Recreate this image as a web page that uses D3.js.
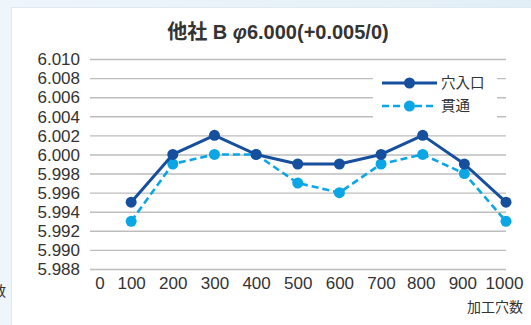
<!DOCTYPE html>
<html>
<head>
<meta charset="utf-8">
<script src="https://cdn.jsdelivr.net/npm/d3@7"></script>
<style>
  html, body { margin: 0; padding: 0; background: #e8f2f9; }
  svg { display: block; }
</style>
</head>
<body>
<script>
// Hole count (x) and measured diameters for each series
const holeCounts = [100, 200, 300, 400, 500, 600, 700, 800, 900, 1000];
const entryDiameter = [5.995, 6.000, 6.002, 6.000, 5.999, 5.999, 6.000, 6.002, 5.999, 5.995];
const throughDiameter = [5.993, 5.999, 6.000, 6.000, 5.997, 5.996, 5.999, 6.000, 5.998, 5.993];
const seriesNames = ["穴入口", "貫通"];
const xTickLabels = [0, 100, 200, 300, 400, 500, 600, 700, 800, 900, 1000];
const yTickValues = [6.010, 6.008, 6.006, 6.004, 6.002, 6.000, 5.998, 5.996, 5.994, 5.992, 5.990, 5.988];
const titleMaker = "他社 B ";
const titleSpec = "6.000(+0.005/0)";
const xAxisTitle = "加工穴数";

const W = 531, H = 325;
const font = "'Liberation Sans', Arial, 'Noto Sans CJK JP', sans-serif";
const jpFont = "'Noto Sans CJK JP', 'Liberation Sans', sans-serif";
const darkBlue = "#164f9e";
const lightBlue = "#0aa6e6";

const svg = d3.select("body").append("svg").attr("width", W).attr("height", H);

// soft page backdrop with the white chart panel
const defs = svg.append("defs");
const grad = defs.append("linearGradient").attr("id", "edge").attr("x1", 0).attr("x2", 1);
grad.append("stop").attr("offset", 0).attr("stop-color", "#eef6fb");
grad.append("stop").attr("offset", 1).attr("stop-color", "#e2eef6");
svg.append("rect").attr("width", W).attr("height", H).attr("fill", "url(#edge)");
svg.append("rect").attr("x", 11).attr("y", 7).attr("width", W - 11).attr("height", H - 7)
  .attr("fill", "#dfe9f0");
svg.append("rect").attr("x", 12).attr("y", 8).attr("width", W - 12).attr("height", H - 8)
  .attr("fill", "#ffffff");

// fragment of a neighbouring label at the left edge
svg.append("text").attr("x", -8).attr("y", 296)
  .attr("font-family", jpFont).attr("font-size", 14).attr("fill", "#333")
  .text("数");

const x = d3.scaleLinear().domain([0, 1000]).range([89.5, 506]);
const y = d3.scaleLinear().domain([5.988, 6.010]).range([269, 59]);

// horizontal gridlines
const yAxis = d3.axisLeft(y).tickValues(yTickValues).tickFormat(d3.format(".3f"))
  .tickSize(-(506 - 90)).tickPadding(10);
const gy = svg.append("g").attr("transform", "translate(90,0)").call(yAxis);
gy.select(".domain").remove();
gy.selectAll(".tick line").attr("stroke", "#bdbdbd").attr("stroke-width", 1.4);
gy.selectAll(".tick text").attr("font-family", font).attr("font-size", 17)
  .attr("fill", "#333").attr("dy", "0.34em");

// x tick labels (no axis line)
const xAxis = d3.axisBottom(x).tickValues(xTickLabels).tickFormat(d3.format("d"))
  .tickSize(0).tickPadding(0);
const gx = svg.append("g").attr("transform", "translate(0,277)").call(xAxis);
gx.select(".domain").remove();
gx.selectAll(".tick text").attr("font-family", font).attr("font-size", 17)
  .attr("fill", "#333").attr("dy", "0.72em")
  .attr("dx", d => d === 0 ? 10 : (d >= 800 ? -2 : 0));

svg.append("text").attr("x", 523).attr("y", 312).attr("text-anchor", "end")
  .attr("font-family", jpFont).attr("font-size", 14).attr("fill", "#333")
  .text(xAxisTitle);

// title: maker name, italic diameter symbol, then the nominal size and tolerance
const title = svg.append("text").attr("x", 278).attr("y", 38.5).attr("text-anchor", "middle")
  .attr("font-family", font).attr("font-size", 20).attr("font-weight", "bold")
  .attr("fill", "#333");
title.append("tspan").text(titleMaker);
title.append("tspan").attr("font-style", "italic").text("φ");
title.append("tspan").text(titleSpec);

// legend box covers the gridlines behind it
const legend = svg.append("g");
legend.append("rect").attr("x", 373).attr("y", 72).attr("width", 124).attr("height", 46).attr("fill", "#fff");

const line = d3.line().x((d, i) => x(holeCounts[i])).y(d => y(d));

function drawSeries(values, color, width, dash) {
  svg.append("path").datum(values).attr("d", line)
    .attr("fill", "none").attr("stroke", color).attr("stroke-width", width)
    .attr("stroke-dasharray", dash).attr("stroke-linejoin", "round");
  svg.append("g").selectAll("circle").data(values).join("circle")
    .attr("cx", (d, i) => x(holeCounts[i])).attr("cy", d => y(d))
    .attr("r", 5.5).attr("fill", color);
}
drawSeries(throughDiameter, lightBlue, 2.6, "7,4");
drawSeries(entryDiameter, darkBlue, 3, null);

const legendItems = [
  { name: seriesNames[0], color: darkBlue, width: 3, dash: null },
  { name: seriesNames[1], color: lightBlue, width: 2.6, dash: "7,4" }
];
legendItems.forEach((it, i) => {
  const ly = 83 + i * 23;
  legend.append("line").attr("x1", 382).attr("x2", 437).attr("y1", ly).attr("y2", ly)
    .attr("stroke", it.color).attr("stroke-width", it.width).attr("stroke-dasharray", it.dash);
  legend.append("circle").attr("cx", 409.5).attr("cy", ly).attr("r", 5.5).attr("fill", it.color);
  legend.append("text").attr("x", 441).attr("y", ly).attr("dy", "0.36em")
    .attr("font-family", jpFont).attr("font-size", 14.5).attr("fill", "#333").text(it.name);
});
</script>
</body>
</html>
